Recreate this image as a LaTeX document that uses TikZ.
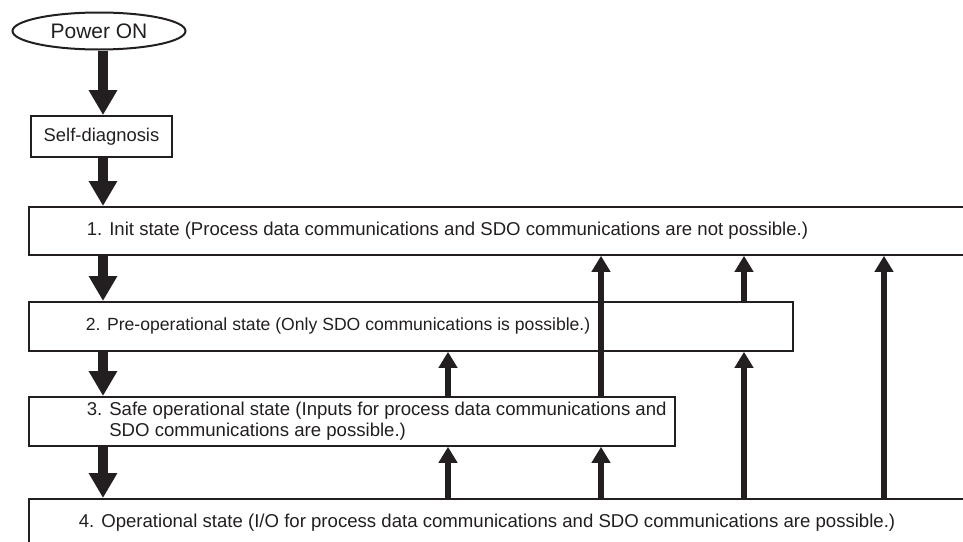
\documentclass[tikz,border=0pt]{standalone}
\usepackage{fontspec}
\setmainfont{Liberation Sans}
\usetikzlibrary{arrows.meta,shapes.geometric}
\definecolor{ink}{HTML}{231F20}
\begin{document}
\begin{tikzpicture}[x=1pt,y=1pt,
  every node/.style={text=ink},
  statebox/.style={draw=ink, line width=1.8pt, rectangle, inner sep=0pt, anchor=north west,
    font=\fontsize{18.6}{21}\selectfont},
  downarr/.style={draw=ink, line width=10pt, -{Triangle[width=27pt,length=25pt]}},
  uparr/.style={draw=ink, line width=6pt, -{Triangle[width=18pt,length=16pt]}},
]
\clip (0,0) rectangle (963,-541);
\node[ellipse, draw=ink, line width=2pt, minimum width=173pt, minimum height=37pt,
  inner sep=0pt, font=\fontsize{21}{24}\selectfont] (power) at (99,-31) {Power ON};
\node[rectangle, draw=ink, line width=1.8pt, minimum width=141pt, minimum height=41pt,
  inner sep=0pt, font=\fontsize{18.4}{21}\selectfont] (self) at (101.5,-136.5) {Self-diagnosis};
\node[statebox] (s1) at (28,-206) {\parbox[c][48pt][c]{972pt}{\leftskip=58pt
  \mbox{1. Init state (Process data communications and SDO communications are not possible.)}}};
\node[statebox, font=\fontsize{17.6}{21}\selectfont] (s2) at (28,-301) {\parbox[c][49pt][c]{764pt}{\leftskip=57pt
  \mbox{2. Pre-operational state (Only SDO communications is possible.)}}};
\node[statebox] (s3) at (28,-396) {\parbox[c][49pt][c]{646pt}{\leftskip=58pt
  \mbox{3. Safe operational state (Inputs for process data communications and}\\
  \mbox{\phantom{3. }SDO communications are possible.)}}};
\node[statebox] (s4) at (28,-498) {\parbox[c][48pt][c]{972pt}{\leftskip=50pt
  \mbox{4. Operational state (I/O for process data communications and SDO communications are possible.)}}};
\coordinate (xa) at (103,0);
\coordinate (xb) at (448,0);
\coordinate (xc) at (601,0);
\coordinate (xd) at (744,0);
\coordinate (xe) at (884,0);
\draw[downarr] (power.south -| xa) -- (self.north -| xa);
\draw[downarr] (self.south -| xa) -- (s1.north -| xa);
\draw[downarr] (s1.south -| xa) -- (s2.north -| xa);
\draw[downarr] (s2.south -| xa) -- (s3.north -| xa);
\draw[downarr] (s3.south -| xa) -- (s4.north -| xa);
\draw[uparr] (s3.north -| xb) -- (s2.south -| xb);
\draw[uparr] (s3.north -| xc) -- (s1.south -| xc);
\draw[uparr] (s2.north -| xd) -- (s1.south -| xd);
\draw[uparr] (s4.north -| xb) -- (s3.south -| xb);
\draw[uparr] (s4.north -| xc) -- (s3.south -| xc);
\draw[uparr] (s4.north -| xd) -- (s2.south -| xd);
\draw[uparr] (s4.north -| xe) -- (s1.south -| xe);
\end{tikzpicture}
\end{document}
